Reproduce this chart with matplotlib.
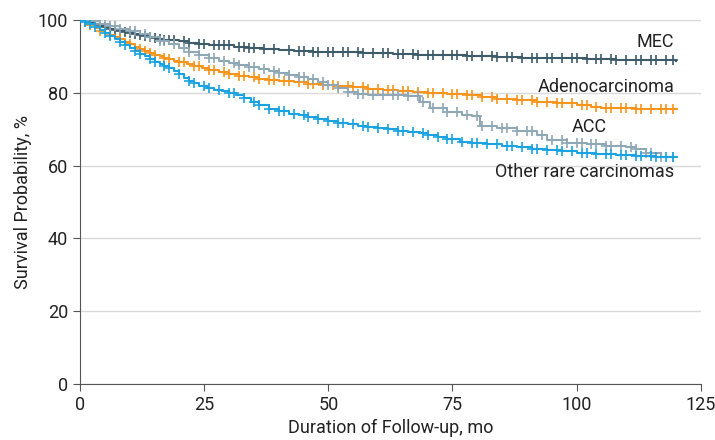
import matplotlib
matplotlib.use("Agg")
import matplotlib.pyplot as plt
import numpy as np

plt.rcParams["font.family"] = ["Roboto", "DejaVu Sans"]

# Kaplan-Meier steps (months, survival %)
mec_t = [0, 1, 2, 3, 4, 5, 6, 7, 8, 9, 10, 11, 12, 13, 14, 15, 16, 17, 18, 20, 22, 24, 26, 28, 31, 34,
         37, 40, 43, 47, 52, 57, 63, 68, 73, 78, 84, 89, 95, 102, 108, 114, 120]
mec_s = [100, 99.6, 99.2, 98.8, 98.4, 98.0, 97.6, 97.3, 97.0, 96.7, 96.4, 96.1, 95.8, 95.5, 95.2, 95.0,
         94.8, 94.6, 94.4, 94.1, 93.8, 93.5, 93.2, 93.0, 92.7, 92.4, 92.1, 91.8, 91.5, 91.3, 91.1, 90.9,
         90.7, 90.5, 90.3, 90.1, 89.9, 89.7, 89.5, 89.3, 89.1, 88.9, 88.8]
mec_cens = [1, 2, 3, 4, 5, 6, 7, 8, 9, 10, 11, 12, 13, 14, 15, 16, 17, 18, 19, 21, 22, 24, 25, 27, 28, 29,
            30, 32, 33, 34, 35, 37, 39, 42, 44, 45, 47, 48, 50, 51, 53, 54, 56, 57, 59, 61, 62, 64, 65, 67,
            68, 70, 71, 73, 75, 76, 78, 79, 81, 83, 84, 86, 87, 89, 91, 92, 94, 95, 97, 99, 100, 102, 104,
            105, 107, 108, 110, 112, 113, 115, 116, 118, 119.5]

adeno_t = [0, 1, 2, 3, 4, 5, 6, 7, 8, 9, 10, 11, 12, 13, 14, 15, 16, 17, 18, 19, 20, 21.5, 23, 24.5, 26,
           28, 30, 32, 34, 36, 38, 40, 43, 46, 49, 52, 55, 58, 61, 64, 67, 70, 74, 78, 81, 84, 88, 92,
           96, 100, 103, 105, 112, 120]
adeno_s = [100, 99.3, 98.5, 97.8, 97.1, 96.5, 95.9, 95.3, 94.7, 94.0, 93.3, 92.6, 92.0, 91.5, 91.0, 90.5,
           90.0, 89.6, 89.2, 88.8, 88.4, 87.9, 87.4, 86.9, 86.4, 85.8, 85.2, 84.7, 84.3, 83.9, 83.6, 83.3,
           82.9, 82.5, 82.1, 81.8, 81.5, 81.1, 80.8, 80.5, 80.2, 80.0, 79.7, 79.3, 78.9, 78.4, 78.0, 77.6,
           77.1, 76.6, 76.1, 75.7, 75.6, 75.6]
adeno_cens = [2, 4, 6, 8, 10, 12, 13, 14, 15, 17, 18, 20, 21, 23, 24, 26, 27, 29, 30, 32, 33, 35, 36, 38,
              39, 41, 42, 44, 46, 47, 49, 51, 52, 54, 55, 57, 58, 60, 62, 63, 65, 66, 68, 70, 71, 73, 75,
              76, 78, 79, 81, 83, 84, 86, 88, 89, 91, 92, 94, 96, 97, 99, 101, 102, 104, 106, 107, 109,
              110, 112, 113, 115, 117, 118, 119.5]

acc_t = [0, 2, 4, 6, 8, 10, 12, 14, 16, 18, 20, 22, 24, 26, 28, 30, 32, 34, 36, 38, 40, 42, 44, 46, 48,
         50, 52, 54, 56, 58, 62, 66, 68.5, 70.5, 74, 77, 79, 80.5, 84, 88, 92, 94, 98, 102, 106, 110,
         112, 114, 117, 120]
acc_s = [100, 99.6, 99.0, 98.3, 97.6, 96.9, 96.2, 95.3, 94.3, 93.3, 92.3, 91.3, 90.3, 89.5, 88.8, 88.2,
         87.6, 87.1, 86.6, 86.1, 85.5, 84.9, 84.3, 83.7, 83.0, 82.2, 81.2, 80.3, 79.8, 79.5, 79.3, 79.0,
         77.6, 75.7, 74.6, 74.0, 73.5, 71.0, 70.2, 69.5, 68.5, 67.0, 66.3, 65.8, 65.5, 65.2, 64.5, 63.4,
         62.5, 62.3]
acc_cens = [1, 2, 3, 4, 5, 6, 7, 8, 10, 11, 13, 14, 16, 17, 19, 21, 22, 24, 26, 27, 29, 31, 32, 34, 35,
            37, 39, 40, 42, 44, 45, 47, 49, 50, 52, 54, 56, 57, 59, 61, 63, 64, 66, 68, 69, 71, 73, 74,
            76, 78, 80, 81, 83, 85, 86, 88, 90, 91, 93, 95, 97, 98, 100, 101, 103, 104, 106, 107, 109,
            111, 112, 114, 115, 117, 119.5]

other_t = [0, 1, 2, 3, 4, 5, 6, 7, 8, 9, 10, 11, 12, 13, 14, 15, 16, 17, 18, 19, 20, 21, 22, 23, 24,
           25.5, 27, 28.5, 30, 31.5, 33, 34.5, 36, 38, 40, 42, 44, 46, 48, 50, 52, 54, 56, 58, 60, 62,
           64, 66, 68.4, 70, 72, 74, 76.5, 79, 82, 85, 88, 91, 94, 97, 100, 104, 108, 112, 116, 120]
other_s = [100, 99.5, 98.8, 98.0, 97.2, 96.4, 95.6, 94.8, 94.0, 93.2, 92.4, 91.6, 90.8, 90.0, 89.2, 88.6,
           88.0, 87.4, 86.8, 86.0, 85.2, 84.2, 83.3, 82.6, 82.0, 81.4, 80.9, 80.4, 79.9, 79.4, 78.5, 77.6,
           76.6, 75.6, 74.9, 74.3, 73.8, 73.3, 72.8, 72.3, 71.8, 71.3, 70.9, 70.6, 70.3, 70.0, 69.6, 69.2,
           68.9, 68.4, 67.8, 67.2, 66.6, 66.2, 65.8, 65.4, 65.0, 64.6, 64.3, 63.9, 63.5, 63.1, 62.8, 62.6,
           62.4, 62.3]
other_cens = [1, 2, 3, 5, 6, 8, 9, 11, 12, 14, 15, 17, 18, 20, 22, 23, 25, 26, 28, 30, 31, 33, 35, 36,
              38, 40, 41, 43, 45, 46, 48, 50, 52, 53, 55, 57, 58, 60, 62, 64, 65, 67, 69, 70, 72, 74, 75,
              77, 79, 80, 82, 84, 86, 87, 89, 91, 92, 94, 96, 97, 99, 101, 102, 104, 106, 107, 109, 110,
              112, 113, 115, 116, 118, 119.5]

groups = [
    ("MEC", mec_t, mec_s, mec_cens, "#3d5b68"),
    ("Adenocarcinoma", adeno_t, adeno_s, adeno_cens, "#f7941d"),
    ("ACC", acc_t, acc_s, acc_cens, "#8fa8b6"),
    ("Other rare carcinomas", other_t, other_s, other_cens, "#1aa3e0"),
]


def step_at(t, s, x):
    idx = np.searchsorted(t, x, side="right") - 1
    return np.asarray(s)[idx]


fig = plt.figure(figsize=(7.15, 4.4), dpi=100)
ax = fig.add_axes([0.112, 0.1273, 0.868, 0.8272])

for name, t, s, cens, color in groups:
    ax.step(t, s, where="post", color=color, lw=1.5, zorder=3)
    ax.plot(cens, step_at(np.array(t), s, np.array(cens)), ls="none", marker="+",
            ms=7, mew=1.2, color=color, zorder=3)

ax.set_xlim(0, 125)
ax.set_ylim(0, 100)
ax.set_xticks([0, 25, 50, 75, 100, 125])
ax.set_yticks([0, 20, 40, 60, 80, 100])
ax.yaxis.grid(True, color="#d9d9d9", lw=1)
ax.set_axisbelow(True)
for sp in ["top", "right"]:
    ax.spines[sp].set_visible(False)
for sp in ["left", "bottom"]:
    ax.spines[sp].set_color("#555555")
ax.tick_params(colors="#555555", labelcolor="#222222", labelsize=13, length=5)
ax.set_xlabel("Duration of Follow-up, mo", fontsize=13, color="#222222")
ax.set_ylabel("Survival Probability, %", fontsize=13, color="#222222")

lab = dict(fontsize=13, color="#222222", va="center")
ax.text(119.7, 94.0, "MEC", ha="right", **lab)
ax.text(119.7, 81.6, "Adenocarcinoma", ha="right", **lab)
ax.text(102.6, 70.6, "ACC", ha="center", **lab)
ax.text(119.7, 58.2, "Other rare carcinomas", ha="right", **lab)

fig.savefig("out.png", dpi=100)
